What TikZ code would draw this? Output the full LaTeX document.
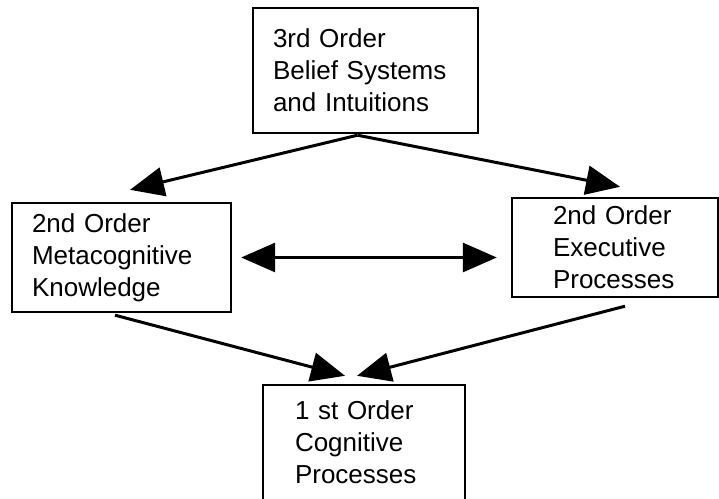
\documentclass[tikz,border=0pt]{standalone}
\usepackage{fontspec}
\setmainfont{Liberation Sans}
\usetikzlibrary{arrows.meta,calc}

\begin{document}
\begin{tikzpicture}[x=1pt,y=-1pt,
  level/.style={draw=black, line width=2.4pt, rectangle, inner sep=0pt,
    align=left, font=\fontsize{26}{32}\selectfont},
  link/.style={line width=3pt, -{Triangle[length=34pt,width=29pt]}},
  twoway/.style={line width=3pt, {Triangle[length=34pt,width=29pt]}-{Triangle[length=34pt,width=29pt]}}]
  \useasboundingbox (0,0) rectangle (719,498);
  \clip (0,0) rectangle (719,498);
  \fill[white] (0,0) rectangle (719,498);

  % the four levels of the hierarchy
  \node[level, minimum width=225pt, minimum height=125pt, text width=185pt]
    (third) at (365.5,70.5) {3rd Order\\Belief Systems\\and Intuitions};
  \node[level, minimum width=219pt, minimum height=109pt, text width=179pt]
    (meta) at (121.5,257.5) {2nd Order\\Metacognitive\\Knowledge};
  \node[level, minimum width=206pt, minimum height=99pt, text width=124pt]
    (exec) at (615,247.5) {2nd Order\\Executive\\Processes};
  \node[level, minimum width=202pt, minimum height=115pt, text width=138pt]
    (first) at (364,442.5) {1 st Order\\Cognitive\\Processes};

  % connectors
  \coordinate (apex) at ($(third.south)+(-8,1)$);
  \draw[link] (apex) -- ($(meta.north)+(8.5,-12)$);
  \draw[link] (apex) -- ($(exec.north)+(5,-10)$);
  \draw[twoway] ($(meta.east)+(9,0)$) -- ($(exec.west |- meta.east)+(-14,0)$);
  \draw[link] ($(meta.south)+(-6.5,2)$) -- ($(first.north)+(-19,-8)$);
  \draw[link] ($(exec.south)+(10,8)$) -- ($(first.north)+(-7,-8)$);
\end{tikzpicture}
\end{document}
